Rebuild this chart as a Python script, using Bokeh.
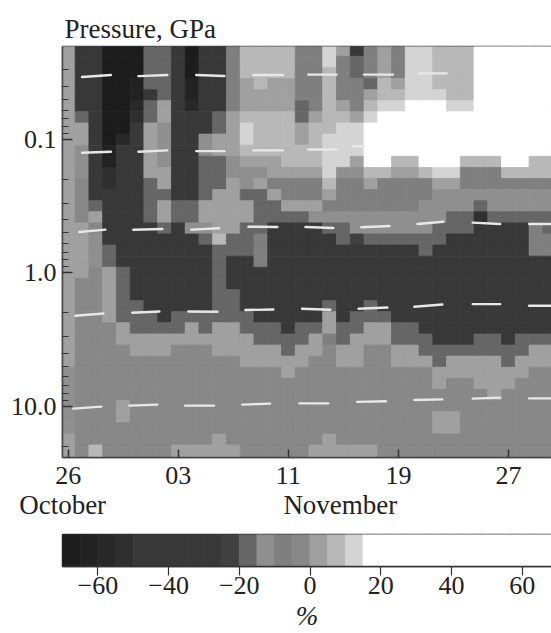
from bokeh.plotting import figure
from bokeh.layouts import column
from bokeh.models import FixedTicker, LinearAxis, LinearColorMapper, ColumnDataSource, Range1d, Title
from bokeh.embed import file_html
from bokeh.resources import INLINE
from bokeh.transform import transform

# Percent anomaly per day (26 Oct onward), top pressure level to bottom
d00 = [3,3,3,3,3,3,3,3,3,3,3,3,3,3,3,3,3,3,3,3,3,3,3,3,3,3,3,3,3,-12,-12,-12,-12,-12,-12,3,3]
d01 = [-37,-37,-37,-37,-37,-37,-17,3,3,-12,-12,-12,-2,-2,-2,-2,3,3,3,3,3,-2,-2,-2,-2,-2,-2,-2,-2,-2,-2,-2,-2,-2,-2,-2,-2]
d02 = [-37,-37,-37,-37,-37,-37,-37,-37,-37,-37,-37,-37,-37,-37,-17,3,-2,-12,-12,-12,-2,-2,-2,-2,-2,-2,-2,-2,-2,-2,-2,-2,-2,-2,-2,-2,8]
d03 = [-67,-67,-67,-67,-67,-67,-67,-67,-67,-62,-62,-52,-52,-37,-37,-37,-37,-37,-17,-17,3,3,3,3,3,-2,-2,-2,-2,-2,-2,-2,-2,-2,-2,-2,-2]
d04 = [-67,-67,-67,-67,-67,-67,-67,-67,-57,-37,-37,-37,-37,-37,-37,-37,-37,-37,-37,-37,-17,-17,-17,-17,-17,3,3,-2,-2,-2,-2,-2,3,3,-2,-2,-2]
d05 = [-67,-67,-67,-62,-62,-57,-52,-37,-37,-37,-37,-37,-37,-37,-37,-37,-37,-37,-37,-37,-37,-37,-37,-17,-17,-17,3,3,-2,-2,-2,-2,-2,-2,-2,-2,-2]
d06 = [-17,-17,-17,-17,-37,-17,-17,3,3,3,3,3,-17,-17,-17,-17,-37,-37,-37,-37,-37,-37,-37,-37,-17,-17,3,3,-2,-2,-2,-2,-2,-2,-2,-2,-2]
d07 = [-17,-17,-17,-17,-17,3,3,-12,-12,-12,-12,3,3,-17,3,3,-17,-37,-37,-37,-37,-37,-37,-37,-37,-17,3,3,-2,-2,-2,-2,-2,-2,-2,-2,-2]
d08 = [-37,-37,-37,-37,-37,-37,-37,-37,-37,-37,-37,-37,-37,-37,-17,-17,-37,-37,-37,-37,-37,-37,-37,-37,-17,-17,3,-2,-2,-2,-2,-2,-2,-2,-2,-2,3]
d09 = [-67,-67,-67,-62,-62,-57,-37,-37,-37,-37,-37,-37,-37,-37,-17,-17,-12,-37,-37,-37,-37,-37,-37,-37,-17,3,3,-2,-2,-2,-2,-2,-2,-2,-2,-2,3]
d10 = [-37,-37,-37,-37,-37,-37,-37,-37,-12,-12,-17,-17,-17,-17,3,3,-12,-17,-37,-37,-37,-37,-37,-37,-17,-17,3,-2,-2,-2,-2,-2,-2,-2,-2,-2,3]
d11 = [-37,-37,-37,-37,-37,-37,-17,-17,3,3,-17,-17,-17,3,3,3,3,8,-17,-17,-17,-17,-17,-17,-17,3,3,3,-2,-2,-2,-2,-2,-2,-2,3,3]
d12 = [-7,-7,-7,-7,-7,-7,3,3,3,3,-12,-12,3,3,3,3,3,-17,-17,-37,-37,-37,-17,-17,-17,3,3,3,-2,-2,-2,-2,-2,-2,-2,-2,3]
d13 = [8,8,8,3,3,3,8,13,13,8,3,-12,-12,-17,3,3,-17,-17,-17,-37,-37,-37,-37,-37,-17,-17,3,3,3,-2,-2,-2,-2,-2,-2,-2,-2]
d14 = [8,8,8,8,3,3,8,8,8,8,3,-12,3,-17,-17,-17,-17,-7,-7,-7,-37,-37,-37,-37,-37,-17,-17,3,3,-2,-2,-2,-2,-2,-2,-2,-2]
d15 = [8,8,8,3,3,3,8,8,8,8,3,3,-7,3,-17,-17,-37,-37,-37,-37,-37,-37,-37,-37,-37,-17,-17,3,3,-2,-2,-2,-2,-2,-2,-2,-2]
d16 = [8,8,8,3,3,3,8,8,8,8,8,3,-7,-7,3,-17,-37,-37,-37,-37,-37,-37,-37,-37,-37,-37,-17,-17,3,3,-2,-2,-2,-2,-2,-2,-2]
d17 = [-7,-7,-7,-7,-7,-17,-17,3,3,8,8,3,-7,-7,3,-17,-37,-37,-37,-37,-37,-37,-37,-37,-37,-17,-17,3,3,-2,-2,-2,-2,-2,-2,-2,-2]
d18 = [-7,-7,-7,-7,-7,-7,3,8,8,8,8,3,-7,-7,3,-12,-37,-37,-37,-37,-37,-37,-37,-37,-37,-17,3,3,-2,-2,-2,-2,-2,-2,-2,-2,3]
d19 = [13,13,8,8,8,8,8,8,13,13,13,13,8,3,-7,-12,-17,-37,-37,-37,-37,-37,-37,-17,3,3,-7,-2,-2,-2,-2,-2,-2,-2,-2,3,3]
d20 = [3,-7,-7,-7,-7,3,8,13,13,13,13,-12,-7,-7,-7,-12,-17,-17,-37,-37,-37,-37,-37,-37,-37,-17,-17,3,3,-2,-2,-2,-2,-2,-2,-2,3]
d21 = [-37,-17,-17,-7,-7,-7,3,13,13,13,3,-12,-7,-7,-7,-12,-12,-22,-37,-37,-37,-37,-37,-37,-17,-17,3,3,3,-2,-2,-2,-2,-2,-2,-2,3]
d22 = [-7,-7,-7,-17,3,8,13,20,20,20,20,8,3,-7,-7,-12,-12,-17,-37,-37,-37,-37,-37,-17,-17,3,3,-2,-2,-2,-2,-2,-2,-2,-2,-2,3]
d23 = [3,3,3,8,8,13,20,20,20,20,20,8,-7,-7,-7,-12,-12,-17,-37,-37,-37,-37,-37,-37,-17,3,3,-2,-2,-2,-2,-2,-2,-2,-2,-2,-2]
d24 = [-7,-7,-7,3,8,13,20,20,20,20,8,3,-7,-7,-7,-12,-12,-17,-37,-37,-37,-37,-37,-37,-37,-17,-17,3,3,-2,-2,-2,-2,-2,-2,-2,-2]
d25 = [13,13,13,13,13,20,20,20,20,20,8,3,-7,-7,-7,-12,-12,-17,-37,-37,-37,-37,-37,-37,-37,-17,-17,3,3,-2,-2,-2,-2,-2,-2,-2,-2]
d26 = [13,13,13,13,13,20,20,20,20,20,20,8,-7,-7,-12,-12,-12,-17,-17,-37,-37,-37,-37,-37,-37,-37,-17,-17,3,-2,-2,-2,-2,-2,-2,-2,-2]
d27 = [8,8,8,8,13,20,20,20,20,20,20,13,3,-12,-12,-12,-17,-17,-37,-37,-37,-37,-37,-37,-37,-37,-37,-17,-17,3,3,-2,-2,3,3,-2,-2]
d28 = [8,8,8,8,8,13,20,20,20,20,20,13,3,-12,-12,-17,-17,-37,-37,-37,-37,-37,-37,-37,-37,-37,-37,-17,3,3,-2,-2,-2,3,3,-2,-2]
d29 = [8,8,8,8,8,13,20,20,20,20,8,-7,-7,-12,-12,-17,-17,-37,-37,-37,-37,-37,-37,-37,-37,-37,-37,-17,3,3,-2,-2,-2,-2,-2,-2,-2]
d30 = [20,20,20,20,20,20,20,20,20,20,8,-7,-7,-12,-17,-52,-37,-37,-37,-37,-37,-37,-37,-37,-37,-37,-17,-17,3,3,3,-2,-2,-2,-2,-2,-2]
d31 = [20,20,20,20,20,20,20,20,20,20,8,-7,-7,-12,-12,-17,-37,-37,-37,-37,-37,-37,-37,-37,-37,-37,-17,-17,3,3,3,3,-2,-2,-2,-2,-2]
d32 = [20,20,20,20,20,20,20,20,20,20,20,8,-7,-12,-12,-17,-37,-37,-37,-37,-37,-37,-37,-37,-37,-37,-37,-17,-17,3,3,-2,-2,-2,-2,-2,-2]
d33 = [20,20,20,20,20,20,20,20,20,20,20,8,-7,-12,-12,-17,-37,-37,-37,-37,-37,-37,-37,-37,-37,-37,-17,-17,3,3,-2,-2,-2,-2,-2,-2,-2]
d34 = [20,20,20,20,20,20,20,20,20,20,8,8,-7,-12,-12,-17,-7,-7,-7,-37,-37,-37,-37,-37,-37,-37,-17,3,3,-2,-2,-2,-2,-2,-2,-2,-2]
d35 = [20,20,20,20,20,20,20,20,20,20,8,8,-7,-12,-12,-17,-17,-7,-7,-37,-37,-37,-37,-37,-37,-37,-17,3,3,-2,-2,-2,-2,-2,-2,-2,-2]
days = [d00,d01,d02,d03,d04,d05,d06,d07,d08,d09,d10,d11,d12,d13,d14,d15,d16,d17,d18,d19,d20,d21,d22,d23,d24,d25,d26,d27,d28,d29,d30,d31,d32,d33,d34,d35]

# Pressure levels, GPa
levels = [0.0215,0.0261,0.0316,0.0383,0.0464,0.0562,0.0681,0.0825,0.1,0.121,0.147,0.178,0.215,0.261,0.316,0.383,0.464,0.562,0.681,0.825,1.0,1.21,1.47,1.78,2.15,2.61,3.16,3.83,4.64,5.62,6.81,8.25,10.0,12.1,14.7,17.8,21.5]

# White marks: day start, day end, pressure start, pressure end
mark_d0 = [1.0,5.1,9.3,13.45,17.45,21.5,25.5,
           1.0,5.1,9.3,13.45,17.45,20.7,
           0.8,4.73,8.95,13.1,17.24,21.3,25.38,29.4,33.5,
           0.51,4.65,8.73,12.87,17.0,21.1,25.16,29.4,33.5,
           0.36,4.44,8.5,12.65,16.8,21.0,25.16,29.4,33.5]
mark_d1 = [3.1,7.2,11.35,15.6,19.5,23.6,27.5,
           3.1,7.2,11.35,15.6,19.5,21.5,
           2.7,6.84,10.98,15.2,19.27,23.35,27.27,31.4,35.13,
           2.55,6.62,10.84,14.91,19.05,23.2,27.2,31.4,35.13,
           2.4,6.47,10.6,14.67,18.9,23.1,27.2,31.4,35.13]
mark_p0 = [.0339,.0334,.0327,.0327,.0325,.0325,.0318,
           .1254,.1233,.1219,.1205,.1185,.112,
           .493,.474,.474,.4508,.452,.455,.4295,.4198,.4295,
           2.10,1.994,1.95,1.90,1.86,1.86,1.797,1.716,1.767,
           10.44,9.91,9.91,9.74,9.53,9.30,8.99,8.79,8.74]
mark_p1 = [.0327,.0327,.0333,.0327,.0325,.0325,.0318,
           .1233,.1205,.1219,.1205,.1185,.112,
           .474,.468,.4627,.452,.460,.4446,.413,.4295,.4295,
           2.018,1.95,1.96,1.883,1.893,1.82,1.728,1.716,1.767,
           10.09,9.74,9.91,9.58,9.53,9.2,8.9,8.63,8.74]

# Colour scale
palette = ["#1c1c1c","#222222","#282828","#2f2f2f","#383838","#383838","#383838","#383838","#383838",
           "#404040","#666666","#8f8f8f","#7f7f7f","#888888","#a0a0a0","#b8b8b8","#d4d4d4"] + ["#ffffff"]*11
scale_values = [-67,-62,-57,-52,-47,-42,-37,-32,-27,-22,-17,-12,-7,-2,3,8,13,18,23,28,33,38,43,48,53,58,63,68]
tick_days = [0,8,16,24,32]
tick_names = ["26","03","11","19","27"]
month_days = [-0.41,19.78]
month_names = ["October", "November"]
bar_ticks = [-60,-40,-20,0,20,40,60]
bar_names = ["\u221260","\u221240","\u221220","0","20","40","60"]

FONT = "Liberation Serif"
SIZE = "26px"
WORDS = "27px"
INK = "#222222"
mapper = LinearColorMapper(palette=palette, low=-70, high=70)

# cell edges
edges = [0.02]
for a, b in zip(levels[:-1], levels[1:]):
    edges.append((a*b)**0.5)
edges.append(24.3)

cx0, cx1, top, bottom, val = [], [], [], [], []
for i, col in enumerate(days):
    for k, v in enumerate(col):
        cx0.append(i-0.5); cx1.append(i+0.5)
        top.append(edges[k]); bottom.append(edges[k+1]); val.append(v)

p = figure(width=551, height=532, toolbar_location=None, output_backend="svg",
           y_axis_type="log", x_range=Range1d(-0.42, 35.13), y_range=Range1d(24.3, 0.02),
           min_border_left=62, min_border_right=0, min_border_top=46, min_border_bottom=75)
p.add_layout(Title(text="Pressure, GPa", align="left", offset=2, standoff=5, text_font=FONT,
                   text_font_size=WORDS, text_font_style="normal", text_color=INK), "above")
p.grid.visible = False
src = ColumnDataSource(dict(left=cx0, right=cx1, top=top, bottom=bottom, v=val))
p.quad(left="left", right="right", top="top", bottom="bottom", source=src,
       fill_color=transform("v", mapper), line_color=transform("v", mapper), line_width=0.8)
p.segment(x0=mark_d0, x1=mark_d1, y0=mark_p0, y1=mark_p1, line_color="#e8e8e8", line_width=2.4, line_cap="round")

p.outline_line_color = "#444444"
p.outline_line_width = 1.5
ax = p.xaxis[0]
ax.ticker = FixedTicker(ticks=tick_days, minor_ticks=[])
ax.major_label_overrides = dict(zip(tick_days, tick_names))
ax.major_tick_in = 8; ax.major_tick_out = 0
ax.major_label_standoff = 9
ay = p.yaxis[0]
ay.ticker = FixedTicker(ticks=[0.1, 1, 10],
                        minor_ticks=[.03,.04,.05,.06,.07,.08,.09,.2,.3,.4,.5,.6,.7,.8,.9,2,3,4,5,6,7,8,9,20])
ay.major_label_overrides = {0.1: "0.1", 1: "1.0", 10: "10.0"}
ay.major_tick_in = 10; ay.major_tick_out = 0
ay.minor_tick_in = 6; ay.minor_tick_out = 0
ay.major_label_standoff = 6
for a in (ax, ay):
    a.axis_line_color = "#444444"; a.axis_line_width = 1.5
    a.major_tick_line_color = "#333333"; a.major_tick_line_width = 1.5
    a.minor_tick_line_color = "#333333"
    a.major_label_text_font = FONT; a.major_label_text_font_size = SIZE
    a.major_label_text_color = INK

# month names: a second, bare axis under the day axis
mx = LinearAxis(ticker=FixedTicker(ticks=month_days, minor_ticks=[]),
                major_label_overrides=dict(zip(month_days, month_names)),
                axis_line_color=None, major_tick_line_color=None, minor_tick_line_color=None,
                major_tick_in=0, major_tick_out=0, major_label_standoff=3,
                major_label_text_font=FONT, major_label_text_font_size=WORDS, major_label_text_color=INK)
p.add_layout(mx, "below")

# colour bar
cb = figure(width=551, height=101, toolbar_location=None, output_backend="svg",
            x_range=Range1d(-70, 68.3), y_range=Range1d(0, 1),
            min_border_left=62, min_border_right=0, min_border_top=2, min_border_bottom=67)
cb.grid.visible = False
cb.yaxis.visible = False
bsrc = ColumnDataSource(dict(left=[v-3 for v in scale_values], right=[v+2 for v in scale_values], v=scale_values))
cb.quad(left="left", right="right", top=1, bottom=0, source=bsrc,
        fill_color=transform("v", mapper), line_color=transform("v", mapper), line_width=0.8)
cb.outline_line_color = "#333333"
cb.outline_line_width = 1.5
bx = cb.xaxis[0]
bx.ticker = FixedTicker(ticks=bar_ticks, minor_ticks=[])
bx.major_label_overrides = dict(zip(bar_ticks, bar_names))
bx.major_tick_in = 0; bx.major_tick_out = 9
bx.major_tick_line_color = "#333333"; bx.major_tick_line_width = 1.2
bx.axis_line_color = "#333333"; bx.axis_line_width = 1.5
bx.major_label_standoff = 1
bx.major_label_text_font = FONT; bx.major_label_text_font_size = SIZE
bx.major_label_text_color = INK
bx.axis_label = "%"
bx.axis_label_text_font = FONT; bx.axis_label_text_font_size = WORDS
bx.axis_label_text_font_style = "italic"; bx.axis_label_text_color = INK
bx.axis_label_standoff = 4

page = column(p, cb, spacing=0)
open("out.html", "w").write(file_html(page, INLINE))
